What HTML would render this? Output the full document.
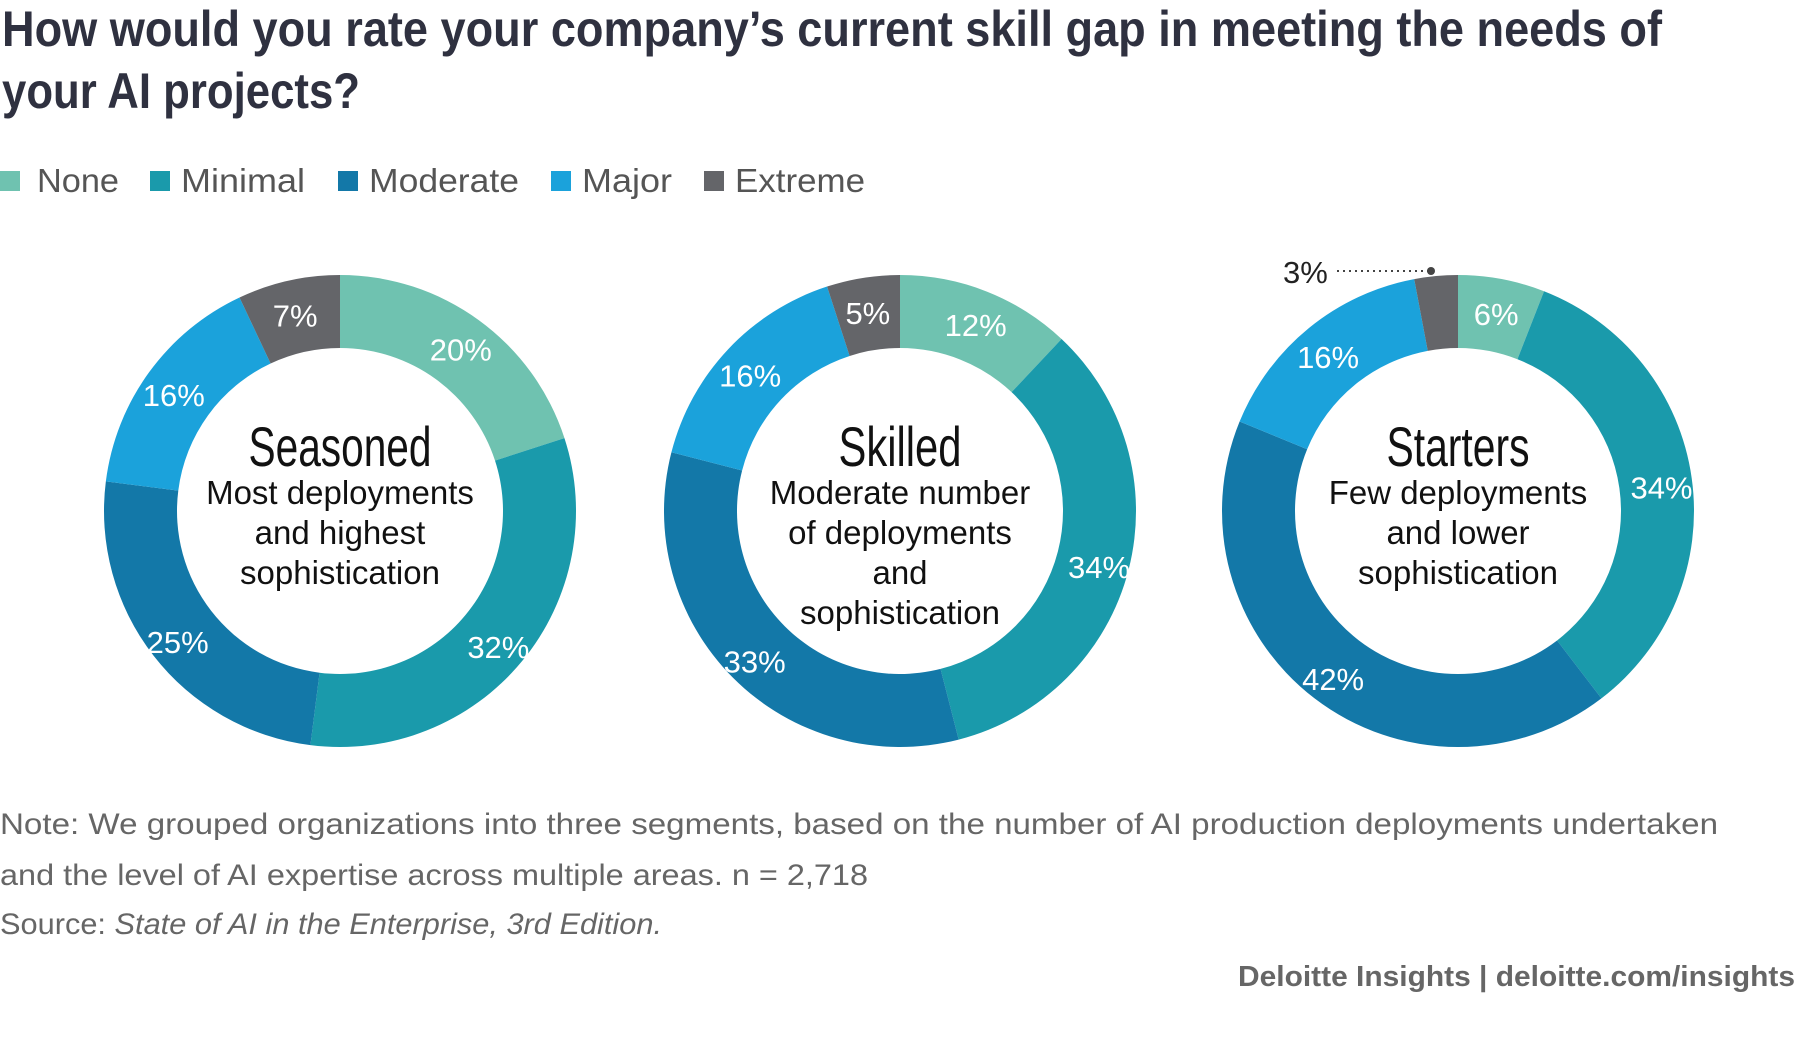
<!DOCTYPE html>
<html><head><meta charset="utf-8"><style>
html,body{margin:0;padding:0;background:#fff;}
svg{display:block;font-family:"Liberation Sans",sans-serif;}
</style></head><body>
<svg id="chart" width="1797" height="1051" viewBox="0 0 1797 1051">
<text x="2" y="46" font-size="50" font-weight="bold" fill="#2f3140" font-family="Liberation Sans Narrow, Liberation Sans, sans-serif" textLength="1660" lengthAdjust="spacingAndGlyphs">How would you rate your company’s current skill gap in meeting the needs of</text>
<text x="2" y="108" font-size="50" font-weight="bold" fill="#2f3140" font-family="Liberation Sans Narrow, Liberation Sans, sans-serif" textLength="358" lengthAdjust="spacingAndGlyphs">your AI projects?</text>
<g id="legend"></g>
<g id="donuts"></g>
<g>
<text x="1283" y="283" font-size="31" fill="#222">3%</text>
<line x1="1337" y1="271" x2="1428" y2="271" stroke="#444" stroke-width="2" stroke-dasharray="2,4"/>
<circle cx="1431" cy="271" r="4" fill="#444"/>
</g>
<text x="0" y="834" font-size="30" fill="#666" textLength="1718" lengthAdjust="spacingAndGlyphs">Note: We grouped organizations into three segments, based on the number of AI production deployments undertaken</text>
<text x="0" y="885" font-size="30" fill="#666" textLength="868" lengthAdjust="spacingAndGlyphs">and the level of AI expertise across multiple areas. n = 2,718</text>
<text x="0" y="934" font-size="30" fill="#666" textLength="662" lengthAdjust="spacingAndGlyphs">Source: <tspan font-style="italic">State of AI in the Enterprise, 3rd Edition.</tspan></text>
<text x="1795" y="986" font-size="29" font-weight="bold" fill="#666" text-anchor="end" textLength="557" lengthAdjust="spacingAndGlyphs">Deloitte Insights | deloitte.com/insights</text>
</svg>
<script>
const categories = ["None","Minimal","Moderate","Major","Extreme"];
const colors = ["#6fc2b0","#1a9aab","#1378a8","#1ba2db","#646569"];
const segments = ["Seasoned","Skilled","Starters"];
const seasonedValues = [20,32,25,16,7];
const skilledValues = [12,34,33,16,5];
const startersValues = [6,34,42,16,3];
const subtitles = [["Most deployments","and highest","sophistication"],["Moderate number","of deployments","and","sophistication"],["Few deployments","and lower","sophistication"]];

const NS="http://www.w3.org/2000/svg";
function mk(tag, attrs, parent){const e=document.createElementNS(NS,tag);for(const k in attrs)e.setAttribute(k,attrs[k]);parent.appendChild(e);return e;}

const lg=document.getElementById('legend');
const legX=[0,150,338,551,704];
const legW=[82,124,150,90,130];
categories.forEach((c,i)=>{
  const g=mk('g',{},lg);
  
  
  const r=mk('rect',{x:legX[i],y:171,width:20,height:20,fill:colors[i]},g);
  
  
  const t=mk('text',{x:legX[i]+(i==0?37:31),y:192,'font-size':33,fill:'#555',textLength:legW[i],lengthAdjust:'spacingAndGlyphs'},g);
  t.textContent=c;
  
  
});

const centersX=[340,900,1458], cy=511, R=236, r0=163;
const titleW=[183,123,143];
const allVals=[seasonedValues,skilledValues,startersValues];
const dg=document.getElementById('donuts');
function pt(cx,rad,frac){const a=frac*2*Math.PI;return [cx+rad*Math.sin(a), cy-rad*Math.cos(a)];}
allVals.forEach((vals,d)=>{
  const cx=centersX[d];
  const total=vals.reduce((a,b)=>a+b,0);
  const g=mk('g',{},dg);
  
  
  let acc=0;
  vals.forEach((v,i)=>{
    const f0=acc/total, f1=(acc+v)/total; acc+=v;
    const [x0,y0]=pt(cx,R,f0),[x1,y1]=pt(cx,R,f1),[x2,y2]=pt(cx,r0,f1),[x3,y3]=pt(cx,r0,f0);
    const large=(f1-f0)>0.5?1:0;
    const p=mk('path',{d:`M${x0},${y0}A${R},${R} 0 ${large} 1 ${x1},${y1}L${x2},${y2}A${r0},${r0} 0 ${large} 0 ${x3},${y3}Z`,fill:colors[i]},g);
    
    
    if(v>=5){
      const [lx,ly]=pt(cx,(R+r0)/2+6,(f0+f1)/2);
      const t=mk('text',{x:lx,y:ly+16,'font-size':31,fill:'#fff','text-anchor':'middle'},g);
      t.textContent=v+'%';
      
      
    }
  });
  const tt=mk('text',{x:cx-titleW[d]/2,y:466,'font-size':56,fill:'#111',textLength:titleW[d],lengthAdjust:'spacingAndGlyphs'},g);
  tt.textContent=segments[d];
  
  
  subtitles[d].forEach((s,k)=>{
    const st=mk('text',{x:cx,y:504+k*40,'font-size':33,fill:'#111','text-anchor':'middle'},g);
    st.textContent=s;
    
    
  });
});
</script>
</body></html>
